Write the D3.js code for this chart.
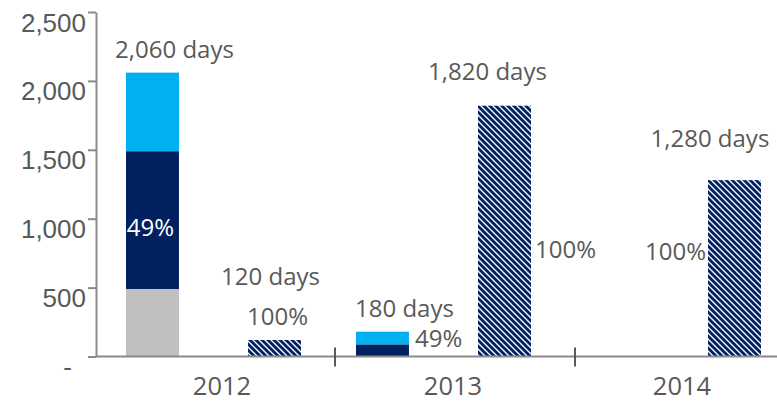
<!DOCTYPE html>
<html lang="en">
<head>
    <meta charset="UTF-8">
    <title>Days by year</title>
    <script src="https://d3js.org/d3.v7.min.js"></script>
    <style>
        body { margin: 0; background: #fff; }
        svg { display: block; font-family: "Open Sans", sans-serif; }
        .tick text, .lbl { fill: #595959; }
    </style>
</head>
<body>
    <svg id="chart" width="777" height="401"></svg>
    <script>
        // Data
        const years = ["2012", "2013", "2014"];
        const grayVals = [490, 0, 0];
        const navyVals = [1000, 88, 0];
        const lightVals = [570, 92, 0];
        const hatchVals = [120, 1820, 1280];
        const stackShare = ["49%", "49%", null];
        const hatchShare = ["100%", "100%", "100%"];
        const yTicks = [0, 500, 1000, 1500, 2000, 2500];

        const width = 777, height = 401;
        const svg = d3.select("#chart");

        const y = d3.scaleLinear().domain([0, 2500]).range([356.5, 12]);
        const x = d3.scaleBand().domain(years).range([95, 785]);
        const xSub = d3.scaleBand().domain(["stack", "hatch"]).range([31, 206]).paddingInner(0.566);
        // the category axis ticks sit on a slightly different grid than the bars
        const xAxis = d3.scaleBand().domain(years).range([95, 815]);

        const colors = { gray: "#BFBFBF", navy: "#002060", light: "#00B0F0" };

        // hatch pattern
        const defs = svg.append("defs");
        const pat = defs.append("pattern")
            .attr("id", "hatch")
            .attr("patternUnits", "userSpaceOnUse")
            .attr("width", 6)
            .attr("height", 6);
        pat.append("rect").attr("width", 6).attr("height", 6).attr("fill", "#fff");
        pat.append("path")
            .attr("d", "M0,0 L6,6 M-1,5 L1,7 M5,-1 L7,1")
            .attr("stroke", colors.navy)
            .attr("stroke-width", 2.9);

        // build stacked rows
        const rows = years.map((yr, i) => ({
            year: yr, gray: grayVals[i], navy: navyVals[i], light: lightVals[i],
            hatch: hatchVals[i], total: grayVals[i] + navyVals[i] + lightVals[i]
        }));
        const stack = d3.stack().keys(["gray", "navy", "light"])(rows);

        // stacked bars
        svg.append("g")
            .selectAll("g")
            .data(stack)
            .join("g")
            .attr("fill", d => colors[d.key])
            .selectAll("rect")
            .data(d => d)
            .join("rect")
            .attr("x", d => x(d.data.year) + xSub("stack"))
            .attr("width", xSub.bandwidth())
            .attr("y", d => y(d[1]))
            .attr("height", d => y(d[0]) - y(d[1]));

        // hatched bars
        svg.append("g")
            .selectAll("rect")
            .data(rows)
            .join("rect")
            .attr("x", d => x(d.year) + xSub("hatch"))
            .attr("width", xSub.bandwidth())
            .attr("y", d => y(d.hatch))
            .attr("height", d => y(0) - y(d.hatch))
            .attr("fill", "url(#hatch)");

        // y axis
        const yAxis = svg.append("g")
            .attr("transform", "translate(96,0)")
            .call(d3.axisLeft(y)
                .tickValues(yTicks)
                .tickSize(8)
                .tickSizeOuter(0)
                .tickPadding(2)
                .tickFormat(d => d === 0 ? "-" : d3.format(",")(d)));
        yAxis.select(".domain").attr("stroke", "#8a8a8a").attr("stroke-width", 2);
        yAxis.selectAll(".tick line").attr("stroke", "#8a8a8a").attr("stroke-width", 2);
        yAxis.selectAll(".tick text")
            .attr("font-size", 26)
            .attr("dy", 19)
            .attr("dx", d => d === 0 ? -14 : 0);

        // x axis baseline and category ticks
        const gx = svg.append("g");
        gx.append("line")
            .attr("x1", 96).attr("x2", width)
            .attr("y1", y(0)).attr("y2", y(0))
            .attr("stroke", "#8a8a8a").attr("stroke-width", 2);
        gx.selectAll("line.cat")
            .data(years.slice(1))
            .join("line")
            .attr("class", "cat")
            .attr("x1", d => xAxis(d)).attr("x2", d => xAxis(d))
            .attr("y1", y(0) - 9).attr("y2", y(0) + 10)
            .attr("stroke", "#595959").attr("stroke-width", 2);
        gx.selectAll("text")
            .data(years)
            .join("text")
            .attr("class", "lbl")
            .attr("x", (d, i) => x(d) + x.bandwidth() / 2 + [12, 13, 12][i])
            .attr("y", 395)
            .attr("text-anchor", "middle")
            .attr("font-size", 25.5)
            .text(d => d);

        // data labels
        const fmt = d3.format(",");
        const labels = [];
        rows.forEach((r, i) => {
            const sx = x(r.year) + xSub("stack");
            const bw = xSub.bandwidth();
            if (r.total > 0) {
                labels.push({ text: fmt(r.total) + " days", x: sx + bw / 2 + 22, y: y(r.total) - 15, anchor: "middle" });
            }
            if (stackShare[i]) {
                const mid = (y(r.gray) + y(r.gray + r.navy)) / 2;
                if (i === 0) {
                    labels.push({ text: stackShare[i], x: sx + bw / 2 - 2, y: mid + 16, anchor: "middle", fill: "#fff" });
                } else {
                    labels.push({ text: stackShare[i], x: sx + bw + 6, y: mid - 3, anchor: "start" });
                }
            }
        });
        // hatched bar labels, placed by hand like the original
        const hatchDays = [
            { dx: -4, dy: -55, anchor: "middle" },
            { dx: -17, dy: -26, anchor: "middle" },
            { dx: -84, dy: -33, anchor: "start" }
        ];
        const hatchPct = [
            { pos: "top", dx: 3, dy: -15, anchor: "middle" },
            { pos: "right", dx: 4, dy: 27, anchor: "start" },
            { pos: "left", dx: -2, dy: -8, anchor: "end" }
        ];
        rows.forEach((r, i) => {
            const hx = x(r.year) + xSub("hatch");
            const bw = xSub.bandwidth();
            const top = y(r.hatch);
            const mid = (top + y(0)) / 2;
            const a = hatchDays[i];
            labels.push({ text: fmt(r.hatch) + " days", x: hx + bw / 2 + a.dx, y: top + a.dy, anchor: a.anchor });
            const p = hatchPct[i];
            if (p.pos === "top") {
                labels.push({ text: hatchShare[i], x: hx + bw / 2 + p.dx, y: top + p.dy, anchor: p.anchor });
            } else if (p.pos === "right") {
                labels.push({ text: hatchShare[i], x: hx + bw + p.dx, y: mid + p.dy, anchor: p.anchor });
            } else {
                labels.push({ text: hatchShare[i], x: hx + p.dx, y: mid + p.dy, anchor: p.anchor });
            }
        });

        svg.append("g")
            .selectAll("text")
            .data(labels)
            .join("text")
            .attr("class", d => d.fill ? null : "lbl")
            .attr("x", d => d.x)
            .attr("y", d => d.y)
            .attr("text-anchor", d => d.anchor)
            .attr("font-size", 24)
            .attr("fill", d => d.fill || null)
            .text(d => d.text);
    </script>
</body>
</html>
